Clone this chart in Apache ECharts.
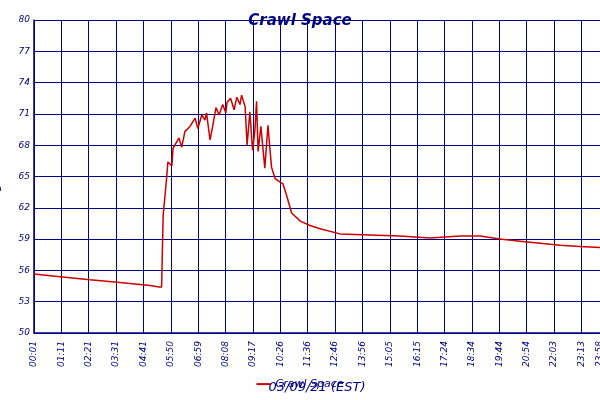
<!DOCTYPE html><html><head><script src="https://cdn.jsdelivr.net/npm/echarts@6/dist/echarts.min.js"></script></head><body style="margin:0"><div id="c" style="width:600px;height:400px"></div><script>
const minutes=[0,66,142,218,295,317,324,326,328,337,340,350,353,368,375,383,396,409,416,426,434,438,447,454,462,470,479,487,490,499,508,515,523,527,536,541,548,555,561,565,569,576,586,594,603,612,632,642,654,677,701,726,777,853,929,1005,1082,1132,1183,1234,1285,1336,1386,1437];
const temps=[55.65,55.4,55.1,54.85,54.55,54.4,54.4,58,61.3,65,66.4,66.0,67.7,68.7,67.8,69.3,69.8,70.6,69.6,70.9,70.4,71.1,68.5,69.9,71.6,70.9,71.9,71.1,72.1,72.5,71.4,72.6,71.9,72.8,71.7,68.0,71.2,67.5,69.5,72.2,67.4,69.8,65.8,69.9,65.9,64.8,64.3,63.1,61.5,60.7,60.3,60.0,59.5,59.4,59.3,59.1,59.3,59.3,59.0,58.8,58.6,58.4,58.3,58.2];
const xLabels=['00:01','01:11','02:21','03:31','04:41','05:50','06:59','08:08','09:17','10:26','11:36','12:46','13:56','15:05','16:15','17:24','18:34','19:44','20:54','22:03','23:13'];
const lastLabel='23:58';
const yTicks=[50,53,56,59,62,65,68,71,74,77,80];
const navy='#000080';const step=69.5;
const ch=echarts.init(document.getElementById('c'));
ch.setOption({animation:false,backgroundColor:'#fff',
title:{text:'Crawl Space',left:'center',top:0,textStyle:{color:navy,fontStyle:'italic',fontSize:15,fontWeight:'bold',fontFamily:'DejaVu Sans'}},
legend:{bottom:0,left:'center',data:['Crawl Space'],icon:'rect',itemWidth:14,itemHeight:2,textStyle:{color:navy,fontStyle:'italic',fontSize:11,fontFamily:'DejaVu Sans'}},
grid:{left:34,right:0,top:20,bottom:67,containLabel:false,outerBoundsMode:'none'},
xAxis:{type:'value',min:0,max:1437,interval:step,name:'03/09/21 (EST)',nameLocation:'middle',nameGap:38,nameTextStyle:{color:navy,fontStyle:'italic',fontSize:13,fontFamily:'DejaVu Sans'},
axisLine:{lineStyle:{color:navy,width:1.5}},axisTick:{show:false},splitLine:{lineStyle:{color:navy,width:1}},
axisLabel:{rotate:90,color:navy,fontSize:9,fontStyle:'italic',fontFamily:'DejaVu Sans',showMaxLabel:true,hideOverlap:false,formatter:v=>{if(v>=1437)return lastLabel;const i=Math.round(v/step);return xLabels[i]||'';}}},
yAxis:{type:'value',min:50,max:80,interval:3,name:'Degrees F',nameLocation:'middle',nameGap:20,nameTextStyle:{color:navy,fontStyle:'italic',fontSize:13,fontFamily:'DejaVu Sans'},
axisLine:{show:true,lineStyle:{color:navy,width:1.5}},axisTick:{show:false},splitLine:{lineStyle:{color:navy,width:1}},
axisLabel:{color:navy,fontSize:9,fontStyle:'italic',fontFamily:'DejaVu Sans',margin:4,formatter:v=>yTicks.includes(v)?String(v):''}},
series:[{name:'Crawl Space',type:'line',data:minutes.map((m,i)=>[m,temps[i]]),showSymbol:false,lineStyle:{color:'#cc0000',width:1.5},itemStyle:{color:'#cc0000'}}]});
</script></body></html>
